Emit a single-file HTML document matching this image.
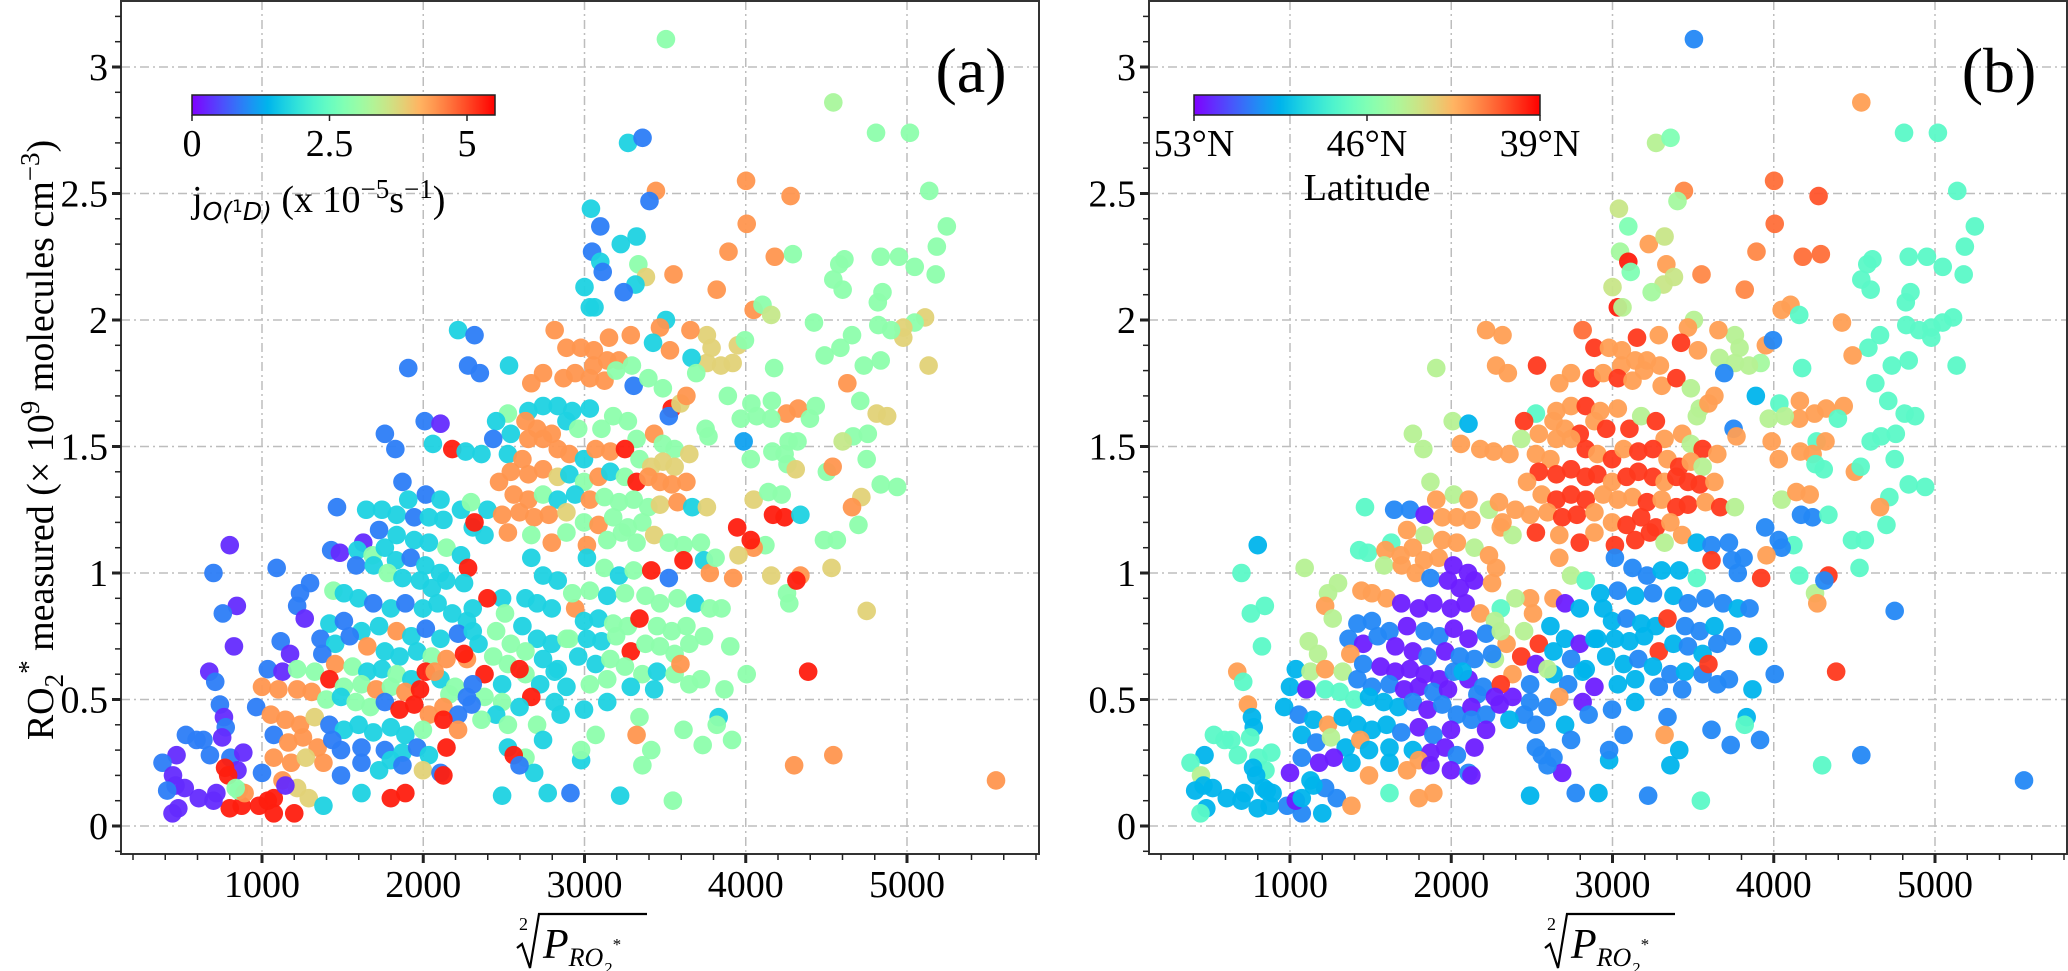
<!DOCTYPE html>
<html><head><meta charset="utf-8">
<style>
html,body{margin:0;padding:0;background:#fff;}
svg{display:block;}
svg text{font-family:"Liberation Serif","DejaVu Serif",serif;fill:#000;}
</style></head>
<body>
<svg id="chart" width="2068" height="971" viewBox="0 0 2068 971" xmlns="http://www.w3.org/2000/svg" font-family="Liberation Serif, DejaVu Serif, serif">
<defs>
<linearGradient id="rb" x1="0" x2="1" y1="0" y2="0"></linearGradient>
</defs>
<g id="panelA"></g>
<g id="panelB"></g>
</svg>
<script>
// Shared data: sqrt(P_RO2*) (x) and RO2* measured (y), jO1D (panel a colour), latitude (panel b colour)
const xs=[3505,4543,3270,3360,4808,5018,4002,4006,4278,3443,3403,5138,5247,5185,5048,5178,4837,4950,4612,4580,4543,4601,4848,4819,4292,4180,3893,3552,3820,3040,3098,3225,3323,3047,3098,3113,3334,3381,3316,3243,3000,3033,3062,4049,4104,4158,4423,5112,5047,4977,4977,4901,4822,4659,4587,4489,5134,4837,4732,4630,4710,4812,4877,4666,4757,4601,4750,4939,4837,4717,4659,4699,4485,4565,4532,4750,4387,4543,4300,5552,
4176,3951,3995,3919,3846,3759,3788,3759,3657,3505,3468,3425,3530,3664,3693,3889,4035,4162,4253,4325,4434,4398,4158,4068,3969,3751,3769,3987,4266,4321,4165,4241,4031,4259,4310,4503,4539,4049,4140,4223,4169,4241,4339,4122,4049,4031,3947,3955,4158,4256,4270,4339,4314,
2815,2888,2978,3058,3152,3214,3141,3287,3055,2743,2870,2942,3033,3124,3196,3294,3305,3396,3486,3541,3523,3595,3632,2670,2652,2743,2834,2924,2634,2706,2797,2888,2961,3033,3105,3178,3269,3323,3432,3486,3559,3650,2525,2452,2543,2652,2743,2834,2906,2997,3069,3160,3251,3341,3414,3486,3559,2434,2525,2615,2543,2652,2743,2834,2906,2997,3087,3160,3251,3323,3396,3468,3541,3632,2470,2561,2652,2743,2834,2942,3033,3124,3214,3305,3396,3468,3577,3668,3759,2398,2489,2597,2688,2779,2888,2997,3087,3178,3269,3359,2307,2380,2525,2670,2797,2888,3015,3141,3232,3323,3432,3523,3614,3722,
3015,3124,3214,3305,3414,3523,3614,3741,3777,3813,3922,3033,3141,3251,3378,3468,3577,3686,3777,3850,2942,2997,3087,3178,3269,3341,3450,3541,3632,3741,2906,3015,3105,3196,3287,3378,3468,3559,3650,3904,2961,3069,3160,3251,3359,3450,3559,3650,3722,3868,4006,3033,3141,3287,3432,3595,2997,3141,3341,3832,3820,3069,3323,3414,3614,3733,3915,2979,2979,3359,3221,3548,2913,2772,
2670,2743,2834,2924,2634,2706,2797,2489,2398,2307,2507,2615,2706,2797,2888,2452,2543,2634,2743,2834,2343,2434,2525,2634,2725,2815,2888,2271,2380,2489,2597,2670,2815,2380,2489,2597,2452,2361,2525,2706,2852,2743,2525,2634,2688,2561,2597,2489,
2216,2318,2278,2351,2532,1907,2009,2107,1762,1827,2060,2180,2263,2361,1871,2016,2107,2234,2296,1907,1465,1646,1744,1835,1944,2035,2125,2318,1726,1835,1944,2035,2144,2234,1628,1429,1483,1592,1686,1762,1831,1922,2013,2104,2278,1584,1693,1780,1871,1980,2053,2143,2253,1091,1298,1236,1443,1508,1599,1690,1799,1889,1998,2089,2180,2271,1218,1265,1418,1508,1617,1726,1835,1926,2016,2107,2216,2307,1363,1454,1544,1653,1762,1853,1962,2053,2144,2253,1116,1174,1374,1454,1562,1653,1744,1835,1926,2016,2107,2198,2307,1036,1127,1218,1327,1418,1508,1617,1708,1799,1889,1980,2071,2162,2271,1000,1102,1218,1308,1399,1490,1581,1672,1762,1853,1944,2035,2125,2216,2300,964,1055,1145,1236,1327,1418,1508,1599,1690,1799,1889,1998,2125,2216,1073,1163,1254,1345,1436,1490,1617,1762,1871,1962,2035,2144,1073,1181,1272,1381,1490,1617,1726,1799,1871,1998,2107,2125,1000,1127,1218,1290,1381,1617,1799,1889,982,1073,1036,874,856,800,892,1200,1073,1145,
800,699,844,757,826,673,710,739,764,775,753,528,594,637,470,677,804,884,383,848,448,464,521,412,608,699,481,445,717,771,790,837];
const ys=[3.11,2.86,2.70,2.72,2.74,2.74,2.55,2.38,2.49,2.51,2.47,2.51,2.37,2.29,2.21,2.18,2.25,2.25,2.24,2.22,2.16,2.12,2.11,2.07,2.26,2.25,2.27,2.18,2.12,2.44,2.37,2.30,2.33,2.27,2.23,2.19,2.22,2.17,2.14,2.11,2.13,2.05,2.05,2.04,2.06,2.02,1.99,2.01,1.99,1.97,1.93,1.96,1.98,1.94,1.89,1.86,1.82,1.84,1.82,1.75,1.68,1.63,1.62,1.54,1.55,1.52,1.45,1.34,1.35,1.30,1.26,1.19,1.13,1.13,1.02,0.85,0.61,0.28,0.24,0.18,
1.81,1.90,1.92,1.83,1.82,1.83,1.89,1.94,1.96,2.00,1.97,1.91,1.88,1.85,1.79,1.70,1.67,1.68,1.63,1.65,1.66,1.61,1.61,1.62,1.61,1.57,1.54,1.52,1.52,1.52,1.48,1.47,1.45,1.43,1.41,1.40,1.42,1.29,1.32,1.31,1.23,1.22,1.23,1.11,1.10,1.13,1.18,1.07,0.99,0.92,0.88,0.99,0.97,
1.96,1.89,1.89,1.88,1.93,1.84,1.84,1.94,1.82,1.79,1.77,1.79,1.77,1.76,1.80,1.82,1.74,1.77,1.73,1.65,1.62,1.67,1.70,1.75,1.64,1.66,1.66,1.64,1.60,1.57,1.55,1.60,1.57,1.65,1.57,1.62,1.60,1.53,1.55,1.51,1.49,1.47,1.63,1.60,1.55,1.53,1.53,1.49,1.47,1.45,1.49,1.48,1.49,1.45,1.42,1.44,1.42,1.53,1.47,1.45,1.40,1.39,1.41,1.38,1.39,1.36,1.38,1.40,1.38,1.36,1.38,1.36,1.35,1.36,1.36,1.31,1.29,1.31,1.29,1.31,1.29,1.30,1.28,1.29,1.26,1.27,1.28,1.26,1.26,1.25,1.23,1.24,1.22,1.23,1.24,1.20,1.19,1.22,1.18,1.20,1.18,1.15,1.16,1.15,1.12,1.16,1.11,1.13,1.16,1.12,1.15,1.12,1.11,1.12,
1.06,1.02,0.99,1.01,1.01,0.98,1.05,1.05,1.00,1.06,0.98,0.93,0.91,0.92,0.91,0.88,0.90,0.88,0.86,0.86,0.86,0.81,0.82,0.80,0.79,0.82,0.79,0.77,0.79,0.75,0.74,0.74,0.73,0.75,0.69,0.72,0.71,0.68,0.72,0.71,0.67,0.64,0.66,0.63,0.60,0.61,0.60,0.56,0.58,0.54,0.60,0.56,0.58,0.55,0.54,0.64,0.46,0.49,0.43,0.43,0.40,0.36,0.36,0.30,0.38,0.32,0.34,0.26,0.30,0.24,0.12,0.10,0.13,0.13,
1.06,0.99,0.97,0.92,0.90,0.88,0.86,0.90,0.90,0.86,0.84,0.79,0.74,0.72,0.74,0.77,0.72,0.69,0.66,0.62,0.72,0.67,0.64,0.60,0.56,0.61,0.55,0.66,0.60,0.56,0.62,0.51,0.49,0.51,0.49,0.47,0.44,0.42,0.40,0.40,0.44,0.34,0.31,0.27,0.21,0.28,0.24,0.12,
1.96,1.94,1.82,1.79,1.82,1.81,1.60,1.59,1.55,1.49,1.51,1.49,1.48,1.47,1.36,1.31,1.29,1.25,1.28,1.29,1.26,1.25,1.25,1.23,1.22,1.22,1.21,1.20,1.17,1.15,1.13,1.12,1.10,1.07,1.12,1.09,1.08,1.09,1.07,1.10,1.05,1.06,1.03,1.00,1.02,1.03,1.03,1.00,0.98,0.97,0.94,0.97,0.96,1.02,0.96,0.92,0.93,0.92,0.90,0.88,0.86,0.88,0.86,0.88,0.84,0.81,0.87,0.82,0.80,0.81,0.77,0.79,0.77,0.75,0.78,0.74,0.76,0.77,0.74,0.72,0.75,0.71,0.69,0.67,0.69,0.67,0.66,0.68,0.73,0.68,0.68,0.64,0.63,0.61,0.62,0.60,0.58,0.61,0.58,0.55,0.56,0.62,0.61,0.62,0.61,0.58,0.55,0.56,0.54,0.55,0.53,0.54,0.61,0.52,0.51,0.55,0.54,0.54,0.53,0.50,0.51,0.49,0.47,0.49,0.46,0.48,0.44,0.47,0.44,0.48,0.47,0.44,0.42,0.40,0.43,0.40,0.38,0.40,0.37,0.39,0.36,0.38,0.42,0.38,0.36,0.33,0.35,0.31,0.34,0.30,0.31,0.30,0.29,0.31,0.28,0.31,0.27,0.25,0.27,0.25,0.20,0.25,0.22,0.26,0.24,0.22,0.21,0.20,0.21,0.18,0.15,0.11,0.08,0.13,0.11,0.13,0.08,0.05,0.10,0.08,0.14,0.07,0.13,0.05,0.11,0.16,
1.11,1.00,0.87,0.84,0.71,0.61,0.57,0.48,0.43,0.39,0.35,0.36,0.34,0.34,0.28,0.28,0.27,0.29,0.25,0.22,0.20,0.16,0.15,0.14,0.11,0.10,0.07,0.05,0.13,0.23,0.20,0.15];
const ja=[2.9,3.2,1.7,0.9,2.9,2.9,4.4,4.4,4.4,4.4,0.9,2.9,2.9,2.9,2.9,2.9,2.9,2.9,2.9,2.9,2.9,2.9,2.9,2.9,2.9,4.4,4.4,4.4,4.4,1.7,0.9,1.7,1.7,0.9,1.7,0.9,2.9,3.8,1.7,0.9,1.7,1.7,1.7,4.4,2.9,3.5,2.9,3.8,2.9,3.8,3.8,2.9,2.9,2.9,2.9,2.9,3.8,2.9,2.9,4.4,2.9,3.8,3.8,2.9,2.9,3.5,2.9,2.9,2.9,3.8,4.4,2.9,2.9,2.9,3.8,3.8,5.3,4.4,4.4,4.4,
2.9,3.8,2.9,3.8,3.8,3.8,3.8,3.8,4.4,1.7,4.4,1.7,4.4,1.7,2.9,2.9,2.9,2.9,4.4,4.4,2.9,2.9,2.9,2.9,2.9,2.9,2.9,1.2,2.9,2.9,2.9,2.9,2.9,2.9,3.8,2.9,4.4,3.8,2.9,2.9,5.3,5.3,1.7,2.9,4.4,5.3,5.3,3.8,3.8,2.9,2.9,4.4,5.3,
4.4,4.4,4.4,4.4,4.4,4.4,4.4,4.4,4.4,4.4,4.4,4.4,4.4,4.4,2.9,2.9,0.9,2.9,2.9,5.3,0.9,3.8,4.4,4.4,1.7,1.7,1.7,1.7,4.4,4.4,4.4,1.7,2.9,1.7,2.9,2.9,2.9,2.9,4.4,2.9,2.9,3.8,2.9,1.7,1.7,4.4,4.4,4.4,4.4,1.7,4.4,4.4,5.3,2.9,3.8,3.8,3.8,0.9,1.7,4.4,4.4,4.4,4.4,3.8,1.7,2.9,4.4,1.7,2.9,5.3,4.4,4.4,4.4,4.4,4.4,4.4,4.4,2.9,1.7,1.7,4.4,2.9,2.9,2.9,2.9,3.8,4.4,1.7,3.8,1.7,4.4,4.4,4.4,4.4,3.8,2.9,4.4,2.9,2.9,2.9,1.7,1.7,4.4,2.9,4.4,2.9,4.4,2.9,2.9,2.9,3.8,2.9,2.9,2.9,
1.7,2.9,1.7,2.9,5.3,0.9,5.3,1.7,4.4,2.9,4.4,2.9,1.7,2.9,2.9,2.9,2.9,1.7,2.9,2.9,4.4,1.7,1.7,2.9,2.9,5.3,2.9,2.9,2.9,2.9,2.9,1.7,1.7,2.9,5.3,2.9,2.9,2.9,2.9,2.9,1.7,1.7,2.9,2.9,2.9,1.7,2.9,2.9,2.9,2.9,2.9,2.9,2.9,1.7,1.7,4.4,1.7,1.7,2.9,1.7,2.9,2.9,4.4,2.9,2.9,2.9,2.9,1.7,2.9,2.9,1.7,2.9,0.9,1.7,
1.7,1.7,1.7,2.9,1.7,1.7,1.7,1.7,5.3,1.7,2.9,1.7,1.7,1.7,2.9,2.9,2.9,2.9,1.7,1.7,1.7,2.9,2.9,2.9,1.7,1.7,1.7,4.4,5.3,1.7,5.3,5.3,1.7,2.9,2.9,1.7,1.7,2.9,2.9,2.9,1.7,1.7,1.7,2.9,1.7,5.3,0.9,1.7,
1.7,0.9,0.9,0.9,1.7,0.9,0.9,0.3,0.9,0.9,1.7,5.3,1.7,1.7,0.9,0.9,1.7,1.7,2.9,1.7,0.9,1.7,1.7,1.7,0.9,1.7,1.7,5.3,0.9,1.7,1.7,1.7,2.9,1.7,0.3,0.9,0.3,1.7,2.9,1.7,1.7,0.9,1.7,1.7,5.3,0.9,1.7,2.9,1.7,1.7,1.7,1.7,1.7,0.9,0.9,0.9,2.9,1.7,1.7,0.9,1.7,0.9,1.7,1.7,1.7,1.7,0.9,0.3,1.7,0.9,1.7,1.7,4.4,1.7,0.9,1.7,0.9,1.7,0.9,1.7,0.9,4.4,1.7,1.7,1.7,2.9,4.4,5.3,0.9,0.3,0.9,4.4,2.9,1.7,1.7,2.9,1.7,5.3,1.7,2.9,0.9,0.9,0.3,2.9,2.9,5.3,2.9,2.9,4.4,2.9,4.4,5.3,4.4,2.9,0.9,4.4,4.4,4.4,4.4,2.9,1.7,2.9,2.9,0.9,5.3,5.3,4.4,4.4,0.9,0.9,0.9,4.4,4.4,4.4,3.8,0.9,1.7,1.7,1.7,1.7,1.7,2.9,5.3,4.4,0.9,4.4,4.4,4.4,0.9,0.9,0.9,0.9,1.7,0.9,1.7,5.3,4.4,4.4,3.8,4.4,0.9,0.9,1.7,1.7,0.9,3.8,0.9,5.3,0.9,4.4,3.8,3.8,1.7,1.7,5.3,5.3,5.3,5.3,5.3,5.3,2.9,5.3,4.4,5.3,5.3,
0.3,0.3,0.9,0.3,0.9,0.3,0.3,0.9,0.9,0.3,0.9,0.3,0.9,0.9,0.9,0.3,0.9,0.9,0.3,0.9,0.3,0.3,0.3,0.3,0.9,0.3,0.3,0.3,0.3,0.3,5.3,5.3];
const lat=[50.5,42,44.5,46,47,47,41,41,40.5,41.5,45,47,47,47,47,47,47,47,47,47,47,47,47,47,41,41,41.5,41.5,41.5,44,46,42,44,45,39.5,46,42,44,44,45,44,39.5,44.5,42,42,47,42,47,47,47,47,47,47,47,47,42,47,47,47,47,47,47,47,47,47,47,47,47,47,47,42,47,47,47,47,50.5,40,50.5,47,50.5,
47,42,50.5,45,44.5,44.5,44.5,44.5,42,44.5,42,40,42,44.5,50.5,49.5,47,42,42,42,42,47,42,44.5,44.5,50.5,42,42,47,42,42,42,42,47,47,42,47,44.5,42,42,50.5,50.5,47,47,50.5,50.5,50.5,42,47,44.5,42,40,50.5,
41,40,42,42,40,42,42,42,42,42,40,42,40,42,42,42,42,40,44.5,44.5,44.5,42,42,42,42,42,40,42,42,42,40,42,40,42,40,44.5,40,42,42,44.5,40,42,47,40,42,42,42,40,42,40,42,40,40,42,40,42,44.5,44.5,42,42,40,40,40,40,40,42,40,40,40,42,40,40,40,42,42,42,40,40,40,42,42,42,40,42,40,40,42,40,44.5,42,42,42,40,40,42,42,40,40,40,42,42,44.5,40,42,40,42,40,40,40,44.5,42,49.5,50.5,50.5,
50.5,50.5,50.5,49.5,49.5,47,40,50.5,50.5,50.5,40,50.5,49.5,50.5,49.5,50.5,50.5,50.5,49.5,50.5,49.5,49.5,50.5,49.5,49.5,40,50.5,50.5,49.5,50.5,49.5,49.5,49.5,49.5,40,49.5,50.5,49.5,50.5,49.5,49.5,49.5,50.5,49.5,50.5,49.5,50.5,50.5,50.5,49.5,50.5,49.5,49.5,50.5,50.5,40,50.5,49.5,50.5,49.5,47,50.5,42,49.5,50.5,50.5,50.5,49.5,50.5,49.5,50.5,47,49.5,50.5,
42,44.5,47,49.5,42,52.5,49.5,42,44.5,47,42,49.5,49.5,52.5,49.5,44.5,40,49.5,50.5,49.5,42,40,52.5,49.5,50.5,49.5,52.5,44.5,42,50.5,44.5,42,52.5,52.5,50.5,50.5,50.5,49.5,50.5,49.5,50.5,50.5,50.5,50.5,52.5,50.5,50.5,49.5,
42,42,42,42,40,44.5,44.5,49.5,44.5,44.5,42,42,42,42,44.5,44.5,42,44.5,42,42,47,50.5,50.5,52.5,42,42,42,42,42,44.5,42,42,44.5,42,47,47,47,42,42,42,42,42,52.5,52.5,42,44.5,42,42,50.5,52.5,52.5,52.5,42,44.5,44.5,44.5,42,42,42,52.5,52.5,52.5,52.5,52.5,42,44.5,42,44.5,50.5,50.5,50.5,52.5,50.5,50.5,52.5,52.5,50.5,44.5,50.5,52.5,50.5,52.5,52.5,50.5,52.5,50.5,50.5,50.5,44.5,44.5,42,50.5,52.5,52.5,52.5,52.5,52.5,50.5,52.5,50.5,40,49.5,44.5,42,44.5,50.5,50.5,50.5,52.5,52.5,50.5,52.5,49.5,50.5,52.5,49.5,52.5,47,47,47,49.5,49.5,49.5,50.5,52.5,50.5,50.5,52.5,50.5,52.5,49.5,50.5,49.5,42,49.5,49.5,49.5,49.5,50.5,52.5,50.5,52.5,50.5,52.5,49.5,50.5,44.5,49.5,42,49.5,49.5,49.5,52.5,52.5,50.5,52.5,50.5,52.5,52.5,49.5,42,49.5,42,42,52.5,52.5,50.5,52.5,52.5,49.5,50.5,50.5,42,47,42,42,50.5,50.5,52.5,49.5,49.5,49.5,49.5,49.5,49.5,49.5,49.5,47,47,
47,47,42,47,42,49.5,49.5,47,47,47,47,49.5,47,47,47,47,47,44.5,49.5,49.5,49.5,49.5,49.5,49.5,47,49.5,49.5,49.5,49.5,47,47,49.5];
// Axis tick values
const xTicks=[1000,2000,3000,4000,5000];
const xTickLabels=["1000","2000","3000","4000","5000"];
const yTicks=[0,0.5,1,1.5,2,2.5,3];
const yTickLabels=["0","0.5","1","1.5","2","2.5","3"];
const cbTicksA=[0,2.5,5];
const cbLabelsA=["0","2.5","5"];
const cbTicksB=[53,46,39];
const cbLabelsB=["53°N","46°N","39°N"];

const NS="http://www.w3.org/2000/svg";
const SERIF="Liberation Serif, DejaVu Serif, serif";
function rainbow(t){if(!isFinite(t))t=0.55;t=Math.max(0,Math.min(1,t));
 const r=Math.min(1,Math.abs(2*t-0.5)),g=Math.sin(Math.PI*t),b=Math.cos(Math.PI*t/2);
 return `rgb(${Math.round(r*255)},${Math.round(g*255)},${Math.round(Math.max(0,b)*255)})`;}
function mk(tag,attrs,parent){const e=document.createElementNS(NS,tag);
 if(tag==='text')e.setAttribute('font-family',SERIF);
 for(const k in attrs)e.setAttribute(k,attrs[k]);parent.appendChild(e);return e;}
const grad=document.getElementById('rb');
for(let i=0;i<=20;i++){mk('stop',{offset:(i/20),'stop-color':rainbow(i/20)},grad);}

const TOP=1,BOT=854;
const yS=v=>826-v*253;
function panel(g,left,right,x0,colorFn,tag){
 const xS=v=>x0+v*0.16125;
 xTicks.forEach(v=>{const l=mk('line',{x1:xS(v),x2:xS(v),y1:TOP,y2:BOT,stroke:'#bdbdbd','stroke-width':1.5,'stroke-dasharray':'9,4,2,4'},g);
  
  });
 yTicks.forEach(v=>{const l=mk('line',{x1:left,x2:right,y1:yS(v),y2:yS(v),stroke:'#bdbdbd','stroke-width':1.5,'stroke-dasharray':'9,4,2,4'},g);
  
  });
 const pg=mk('g',{},g);
 
 
 const n=Math.min(xs.length,ys.length);
 for(let i=0;i<n;i++){
  const c=mk('circle',{cx:xS(xs[i]),cy:yS(ys[i]),r:9.3,fill:colorFn(i),'fill-opacity':0.95},pg);
  
  
 }
 const f=mk('rect',{x:left,y:TOP,width:right-left,height:BOT-TOP,fill:'none',stroke:'#333','stroke-width':2},g);
 
 
 for(let v=200;v<=5800;v+=200){const px=xS(v);if(px<left||px>right)continue;
  const major=v%1000===0;
  mk('line',{x1:px,x2:px,y1:BOT,y2:BOT+(major?9:6),stroke:'#222','stroke-width':major?3:1.5},g);}
 xTicks.forEach((v,i)=>{const t=mk('text',{x:xS(v),y:897,'text-anchor':'middle','font-size':38},g);t.textContent=xTickLabels[i];
  
  });
 for(let k=-1;k<=32;k++){const v=k/10;const py=yS(v);if(py<TOP||py>BOT)continue;
  const major=k%5===0;
  mk('line',{x1:left,x2:left-(major?9:6),y1:py,y2:py,stroke:'#222','stroke-width':major?3:1.5},g);}
 yTicks.forEach((v,i)=>{const t=mk('text',{x:left-13,y:yS(v)+13,'text-anchor':'end','font-size':38},g);t.textContent=yTickLabels[i];
  
  });
 const pt=mk('text',{x:right-68,y:92,'text-anchor':'middle','font-size':64},g);pt.textContent=tag;
 
 
 const xl=mk('g',{},g);
 
 
 const bx=left+396;
 const two=mk('text',{x:bx+2,y:930,'font-size':18,'font-family':'DejaVu Sans'},xl);two.textContent='2';
 mk('path',{d:`M${bx},948 L${bx+5},944 L${bx+13},968 L${bx+22},914 L${bx+130},914`,fill:'none',stroke:'#000','stroke-width':2.2},xl);
 const P=mk('text',{x:bx+26,y:958,'font-size':42,'font-style':'italic','font-family':'DejaVu Sans'},xl);
 P.innerHTML='P<tspan font-size="26" dy="8">RO</tspan><tspan font-size="17" dy="8">2</tspan><tspan font-size="17" dy="-24">*</tspan>';
}
panel(document.getElementById('panelA'),121,1039,100.75,i=>rainbow((ja[i]===undefined?2.9:ja[i])/5.5),'(a)');
panel(document.getElementById('panelB'),1149,2067,1128.75,i=>rainbow((53-(lat[i]===undefined?47:lat[i]))/14),'(b)');

function colorbar(g,x1,x2,ticks,labels,valToPx,title,titleX,titleY,titleAnchor){
 const r=mk('rect',{x:x1,y:95,width:x2-x1,height:20,fill:'url(#rb)',stroke:'#222','stroke-width':1.5},g);
 
 
 ticks.forEach((v,i)=>{const px=valToPx(v);mk('line',{x1:px,x2:px,y1:115,y2:121,stroke:'#222','stroke-width':1.5},g);
  const t=mk('text',{x:px,y:156,'text-anchor':'middle','font-size':38},g);t.textContent=labels[i];
  
  });
 const tt=mk('text',{x:titleX,y:titleY,'text-anchor':titleAnchor,'font-size':38},g);tt.innerHTML=title;
 
 
}
colorbar(document.getElementById('panelA'),192,495,cbTicksA,cbLabelsA,v=>192+v*(467-192)/5,
 'j<tspan font-style="italic" font-family="DejaVu Sans" font-size="25" dy="8">O(</tspan><tspan font-family="DejaVu Sans" font-size="17" dy="-8">1</tspan><tspan font-style="italic" font-family="DejaVu Sans" font-size="25" dy="8">D)</tspan><tspan dy="-8"> (x 10</tspan><tspan font-size="27" dy="-14">−5</tspan><tspan dy="14">s</tspan><tspan font-size="27" dy="-14">−1</tspan><tspan dy="14">)</tspan>',
 192,212,'start');
colorbar(document.getElementById('panelB'),1194,1540,cbTicksB,cbLabelsB,v=>1194+(53-v)*(1540-1194)/14,'Latitude',1367,200,'middle');

const yt=mk('text',{x:0,y:0,'text-anchor':'middle','font-size':38,transform:'translate(53,440) rotate(-90)'},document.getElementById('panelA'));
yt.innerHTML='RO<tspan font-size="27" dy="10">2</tspan><tspan font-size="27" dy="-26">*</tspan><tspan dy="16"> measured (× 10</tspan><tspan font-size="27" dy="-14">9</tspan><tspan dy="14"> molecules cm</tspan><tspan font-size="27" dy="-14">−3</tspan><tspan dy="14">)</tspan>';


</script>
</body></html>
